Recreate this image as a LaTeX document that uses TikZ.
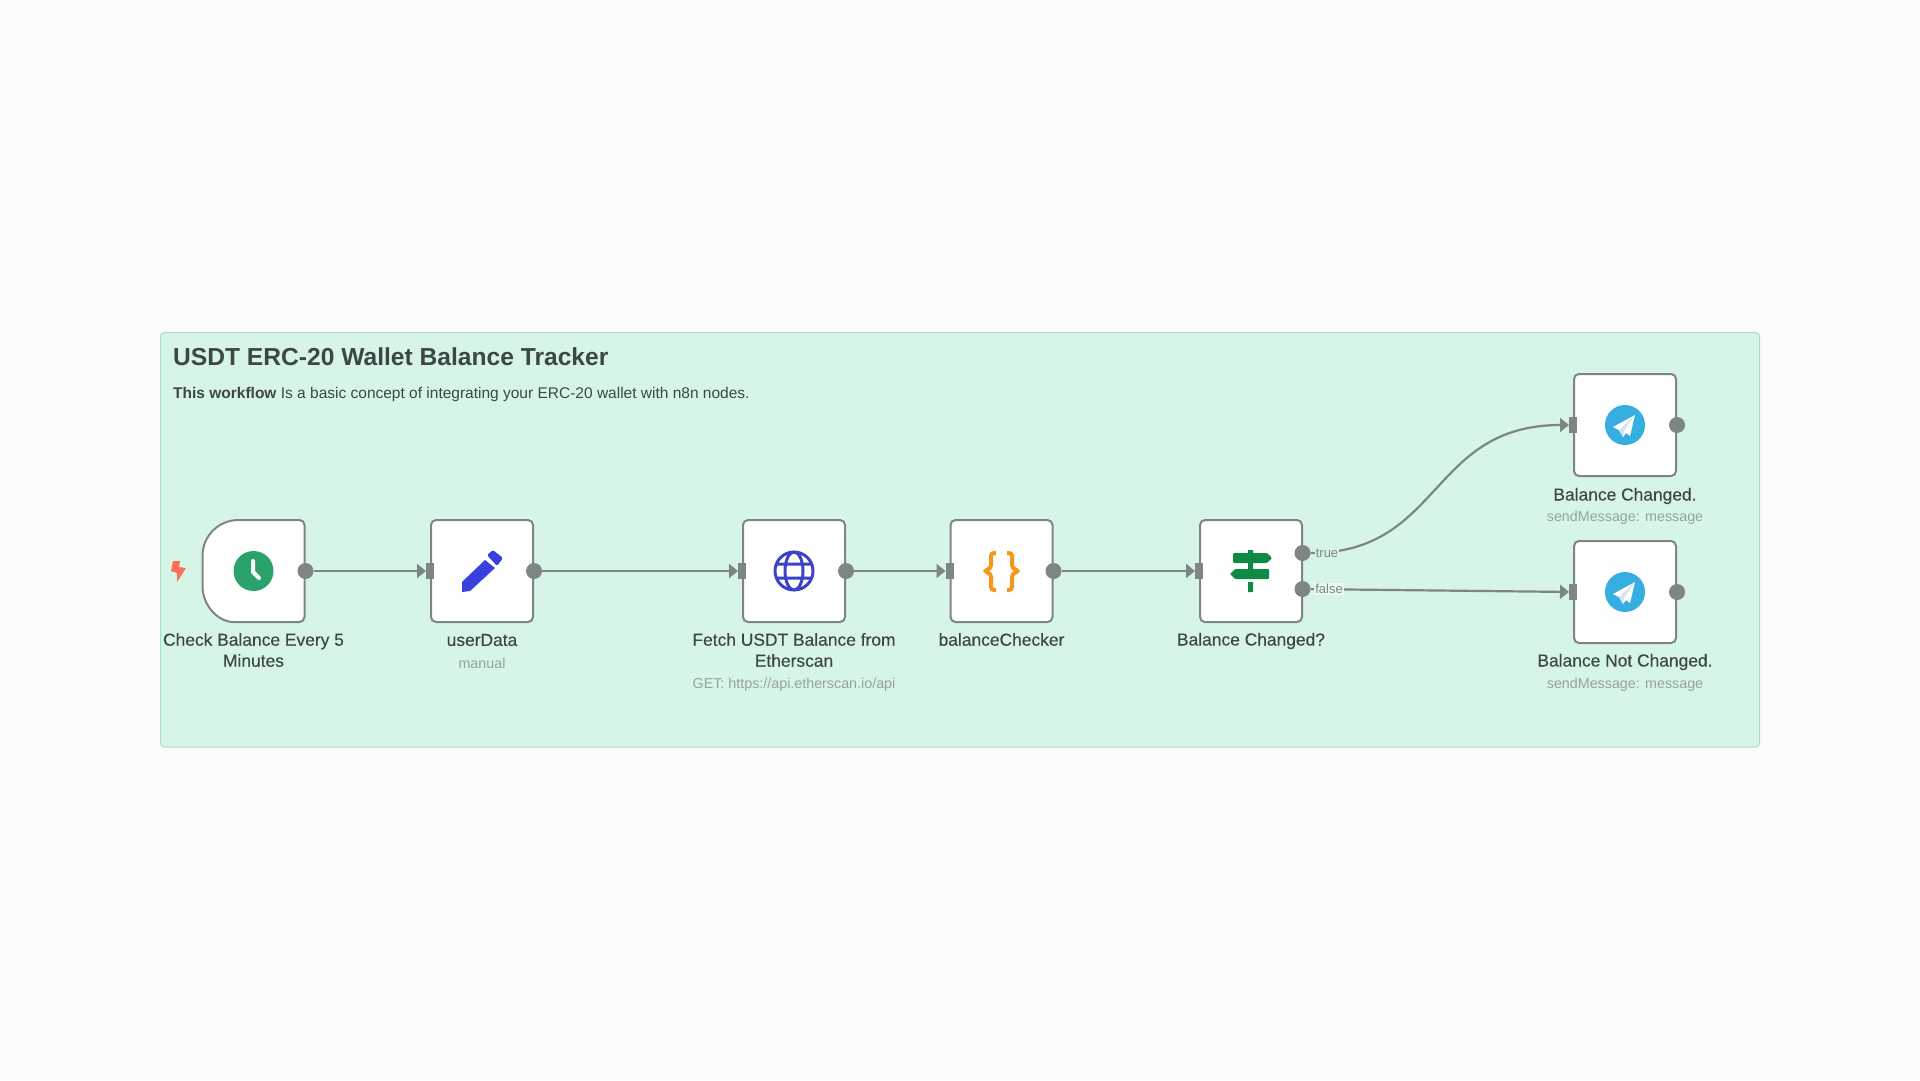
\documentclass[tikz,border=0pt]{standalone}
\usepackage{fontspec}
\setmainfont{Liberation Sans}
\usetikzlibrary{arrows.meta}
\definecolor{pagebg}{HTML}{FBFBFB}
\definecolor{groupbg}{HTML}{D6F5E6}
\definecolor{groupline}{HTML}{A6E0C4}
\definecolor{wire}{HTML}{7F8584}
\definecolor{labeltext}{HTML}{3D4845}
\definecolor{subtext}{HTML}{95A39E}
\definecolor{clockgreen}{HTML}{2AA36B}
\definecolor{penblue}{HTML}{3A3FE0}
\definecolor{globeblue}{HTML}{3B44C8}
\definecolor{braceorange}{HTML}{F7951D}
\definecolor{signgreen}{HTML}{0F8A45}
\definecolor{tgblue}{HTML}{37AEE2}
\definecolor{tgfold}{HTML}{D3E4EE}
\definecolor{boltred}{HTML}{FF6D5A}
\tikzset{
    flowbox/.style={draw=wire,fill=white,line width=2pt,rounded corners=5pt,minimum width=102pt,minimum height=102pt,inner sep=0pt},
    outdot/.style={circle,fill=wire,minimum size=16pt,inner sep=0pt,outer sep=0pt},
    inport/.style={rectangle,fill=wire,minimum width=8pt,minimum height=16pt,inner sep=0pt,outer sep=0pt},
    wirelink/.style={draw=wire,line width=2.2pt,-{Triangle[length=9pt,width=14pt]}},
    namelabel/.style={text=labeltext,align=center,font=\fontsize{17.4}{21}\selectfont\addfontfeature{FakeBold=0.3}},
    sublabel/.style={text=subtext,align=center,font=\fontsize{14.3}{17}\selectfont},
    branchlabel/.style={text=wire,inner sep=1pt,font=\fontsize{13}{15}\selectfont},
}
\begin{document}
\begin{tikzpicture}[x=1pt,y=-1pt]
    \useasboundingbox (0,0) rectangle (1920,1080);
    \fill[pagebg] (0,0) rectangle (1920,1080);
    \draw[fill=groupbg,draw=groupline,line width=1pt,rounded corners=4pt] (160.5,332.5) rectangle (1759.5,747);
    \node[anchor=west,inner sep=0pt,text=labeltext,font=\fontsize{24.6}{30}\bfseries\selectfont] (title) at (173,357) {USDT ERC-20 Wallet Balance Tracker};
    \node[anchor=west,inner sep=0pt,text=labeltext,font=\fontsize{15.5}{18}\selectfont] (descr) at (173,394) {\textbf{This workflow} Is a basic concept of integrating your ERC-20 wallet with n8n nodes.};

    \node[flowbox,draw=none,fill=none,outer sep=0pt] (check) at (253.5,571) {};
    \draw[draw=wire,fill=white,line width=2pt] ([xshift=36pt]check.north west) [rounded corners=5pt] -- (check.north east) -- (check.south east) -- ([xshift=36pt]check.south west) [sharp corners] .. controls +(-20,0) and +(0,20) .. ([yshift=36pt]check.south west) -- ([yshift=-36pt]check.north west) .. controls +(0,-20) and +(-20,0) .. ([xshift=36pt]check.north west) -- cycle;
    \node[flowbox] (user) at (482,571) {};
    \node[flowbox] (fetch) at (794,571) {};
    \node[flowbox] (checker) at (1001.5,571) {};
    \node[flowbox] (branch) at (1251,571) {};
    \node[flowbox] (changed) at (1625,425) {};
    \node[flowbox] (unchanged) at (1625,592) {};

    \node[outdot] (outCheck) at ([xshift=1pt]check.east) {};
    \node[outdot] (outUser) at (user.east) {};
    \node[outdot] (outFetch) at (fetch.east) {};
    \node[outdot] (outChecker) at (checker.east) {};
    \node[outdot] (outTrue) at (1302.5,553) {};
    \node[outdot] (outFalse) at (1302.5,589) {};
    \node[outdot] (outChanged) at (changed.east) {};
    \node[outdot] (outUnchanged) at (unchanged.east) {};
    \node[inport] (inUser) at (user.west) {};
    \node[inport] (inFetch) at (fetch.west) {};
    \node[inport] (inChecker) at (checker.west) {};
    \node[inport] (inBranch) at (branch.west) {};
    \node[inport] (inChanged) at (changed.west) {};
    \node[inport] (inUnchanged) at (unchanged.west) {};

    \draw[wirelink] (outCheck) to (inUser);
    \draw[wirelink] (outUser) to (inFetch);
    \draw[wirelink] (outFetch) to (inChecker);
    \draw[wirelink] (outChecker) to (inBranch);
    \draw[wirelink] (outTrue) .. controls +(140,0) and +(-140,0) .. (inChanged.west);
    \draw[wirelink] (outFalse) to (inUnchanged);
    \node[branchlabel,fill=groupbg] (lblTrue) at (1327,553) {true};
    \node[branchlabel,fill=groupbg!55!white] (lblFalse) at (1329,589) {false};

    \fill[boltred] (173,561) -- (180,561) -- (179,567) -- (186,568) -- (177,582) -- (177,573) -- (171,571) -- cycle;
    \fill[clockgreen] (253.5,571) circle (20);
    \draw[white,line width=4pt,line cap=round,line join=round] (253,561) -- (253,572) -- (259,578);
    \fill[penblue] (462,592) -- (470,591) -- (495,568) -- (485,560) -- (462,582) -- cycle;
    \fill[penblue,rounded corners=1.5pt] (487,555) -- (493,550) -- (503,558) -- (497,566) -- cycle;
    \draw[globeblue,line width=3pt] (794,571) circle (19) (794,571) ellipse (9 and 19) (776,564) -- (812,564) (776,578) -- (812,578);
    \draw[braceorange,line width=4pt,rounded corners=3pt] (996,553) -- (991,553) -- (991,568) -- (984,571) -- (991,574) -- (991,590) -- (996,590);
    \draw[braceorange,line width=4pt,rounded corners=3pt] (1007,553) -- (1012,553) -- (1012,568) -- (1019,571) -- (1012,574) -- (1012,590) -- (1007,590);
    \fill[signgreen,rounded corners=1pt] (1233,553) -- (1267,553) -- (1272,558) -- (1267,563) -- (1233,563) -- cycle;
    \fill[signgreen,rounded corners=1pt] (1235,569) -- (1269,569) -- (1269,579) -- (1235,579) -- (1230,574) -- cycle;
    \fill[signgreen] (1248,550) rectangle (1253,553) (1248,563) rectangle (1253,569) (1248,582) rectangle (1253,592);
    \fill[tgblue] (1625,425) circle (20);
    \fill[white] (1635,415) -- (1613,427) -- (1619,430) -- (1623,437) -- (1626,433) -- (1630,436) -- cycle;
    \fill[tgfold] (1619,430) -- (1623,437) -- (1624,431) -- (1635,415) -- cycle;
    \fill[tgblue] (1625,592) circle (20);
    \fill[white] (1635,582) -- (1613,594) -- (1619,597) -- (1623,604) -- (1626,600) -- (1630,603) -- cycle;
    \fill[tgfold] (1619,597) -- (1623,604) -- (1624,598) -- (1635,582) -- cycle;

    \node[namelabel] (nameCheck) at (253.5,650) {Check Balance Every 5\\Minutes};
    \node[namelabel] (nameUser) at (482,640) {userData};
    \node[sublabel] (subUser) at (482,663) {manual};
    \node[namelabel] (nameFetch) at (794,650) {Fetch USDT Balance from\\Etherscan};
    \node[sublabel] (subFetch) at (794,684.5) {GET: https://api.etherscan.io/api};
    \node[namelabel] (nameChecker) at (1001.5,639.5) {balanceChecker};
    \node[namelabel] (nameBranch) at (1251,641) {Balance Changed?};
    \node[namelabel] (nameChanged) at (1625,496) {Balance Changed.};
    \node[sublabel] (subChanged) at (1625,518) {sendMessage: message};
    \node[namelabel] (nameUnchanged) at (1625,662) {Balance Not Changed.};
    \node[sublabel] (subUnchanged) at (1625,685) {sendMessage: message};
\end{tikzpicture}
\end{document}
